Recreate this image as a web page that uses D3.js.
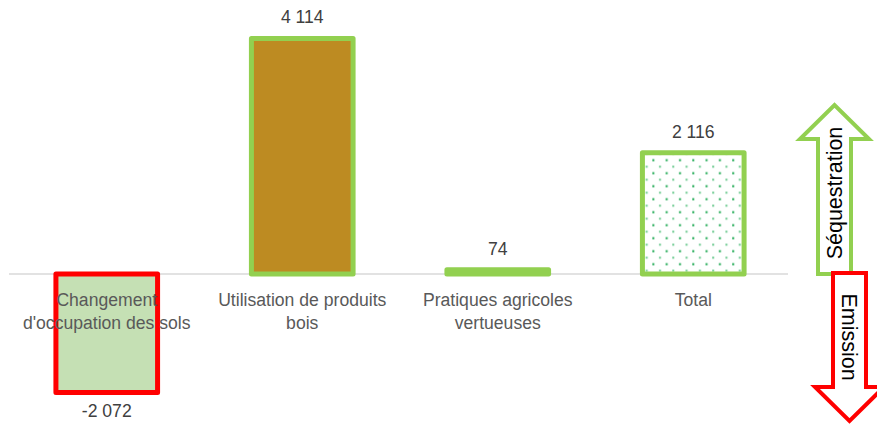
<!DOCTYPE html>
<html><head><meta charset="utf-8">
<script src="https://cdn.jsdelivr.net/npm/d3@7"></script>
<style>html,body{margin:0;padding:0;background:#fff;}svg{display:block;}</style>
</head><body>
<svg id="chart" width="877" height="426"></svg>
<script>
const categories = ["Changement d'occupation des sols", "Utilisation de produits bois", "Pratiques agricoles vertueuses", "Total"];
const categoryLines = [["Changement", "d'occupation des sols"], ["Utilisation de produits", "bois"], ["Pratiques agricoles", "vertueuses"], ["Total"]];
const values = [-2072, 4114, 74, 2116];
const valueLabels = ["-2 072", "4 114", "74", "2 116"];
const arrowLabels = ["Séquestration", "Emission"];

const fills = ["#c5e0b4", "#bd8b22", "#92d050", "url(#dots)"];
const strokes = ["#ff0000", "#92d050", "#92d050", "#92d050"];

const svg = d3.select("#chart");
const font = "'Liberation Sans', Arial, sans-serif";

const defs = svg.append("defs");
const pat = defs.append("pattern").attr("id", "dots").attr("patternUnits", "userSpaceOnUse")
  .attr("width", 13.3).attr("height", 13).attr("x", 646.5).attr("y", 153.5);
pat.append("rect").attr("width", 13.3).attr("height", 13).attr("fill", "#fff");
pat.append("rect").attr("x", 5.9).attr("y", 5.7).attr("width", 2).attr("height", 2).attr("fill", "#1aa850");
[[-0.8, -0.8], [12.5, -0.8], [-0.8, 12.2], [12.5, 12.2]].forEach(p =>
  pat.append("rect").attr("x", p[0]).attr("y", p[1]).attr("width", 2).attr("height", 2).attr("fill", "#6fcb92"));

const x = d3.scaleBand().domain(categories).range([9, 791]).paddingInner(0.48).paddingOuter(0.24);
const y = d3.scaleLinear().domain([-2500, 4500]).range([417.1, 16.4]);

svg.append("line").attr("x1", 9).attr("x2", 788).attr("y1", y(0)).attr("y2", y(0))
  .attr("stroke", "#d9d9d9").attr("stroke-width", 1.5);

svg.selectAll("rect.bar").data(values).enter().append("rect").attr("class", "bar")
  .attr("x", (d, i) => x(categories[i]))
  .attr("width", x.bandwidth())
  .attr("y", d => y(Math.max(0, d)))
  .attr("height", d => Math.abs(y(d) - y(0)))
  .attr("fill", (d, i) => fills[i])
  .attr("stroke", (d, i) => strokes[i])
  .attr("stroke-width", 5)
  .attr("stroke-linejoin", "round");

categoryLines.forEach((lines, i) => {
  const cx = x(categories[i]) + x.bandwidth() / 2;
  const t = svg.append("text").attr("x", cx).attr("y", 306)
    .attr("text-anchor", "middle").attr("font-family", font).attr("font-size", 17.6).attr("fill", "#595959");
  lines.forEach((l, j) => t.append("tspan").attr("x", cx).attr("dy", j === 0 ? 0 : 23).text(l));
});

values.forEach((v, i) => {
  const cx = x(categories[i]) + x.bandwidth() / 2;
  const yy = v >= 0 ? y(v) - 15 : y(v) + 24;
  svg.append("text").attr("x", cx).attr("y", yy).attr("text-anchor", "middle")
    .attr("font-family", font).attr("font-size", 17.6).attr("fill", "#404040").text(valueLabels[i]);
});

const y0 = y(0);
const up = [[818, y0], [818, 139], [800, 139], [834.5, 105], [869, 139], [851, 139], [851, y0]];
svg.append("path").attr("d", d3.line()(up) + "Z").attr("fill", "#fff").attr("stroke", "#92d050").attr("stroke-width", 4);
const down = [[833, y0 - 1], [866, y0 - 1], [866, 387], [884, 387], [849.5, 421], [815, 387], [833, 387]];
svg.append("path").attr("d", d3.line()(down) + "Z").attr("fill", "#fff").attr("stroke", "#ff0000").attr("stroke-width", 4);

svg.append("text").attr("transform", `translate(842,193) rotate(-90)`).attr("text-anchor", "middle")
  .attr("font-family", font).attr("font-size", 21.5).attr("fill", "#000").text(arrowLabels[0]);
svg.append("text").attr("transform", `translate(842,337) rotate(90)`).attr("text-anchor", "middle")
  .attr("font-family", font).attr("font-size", 21.5).attr("fill", "#000").text(arrowLabels[1]);
</script>
</body></html>
